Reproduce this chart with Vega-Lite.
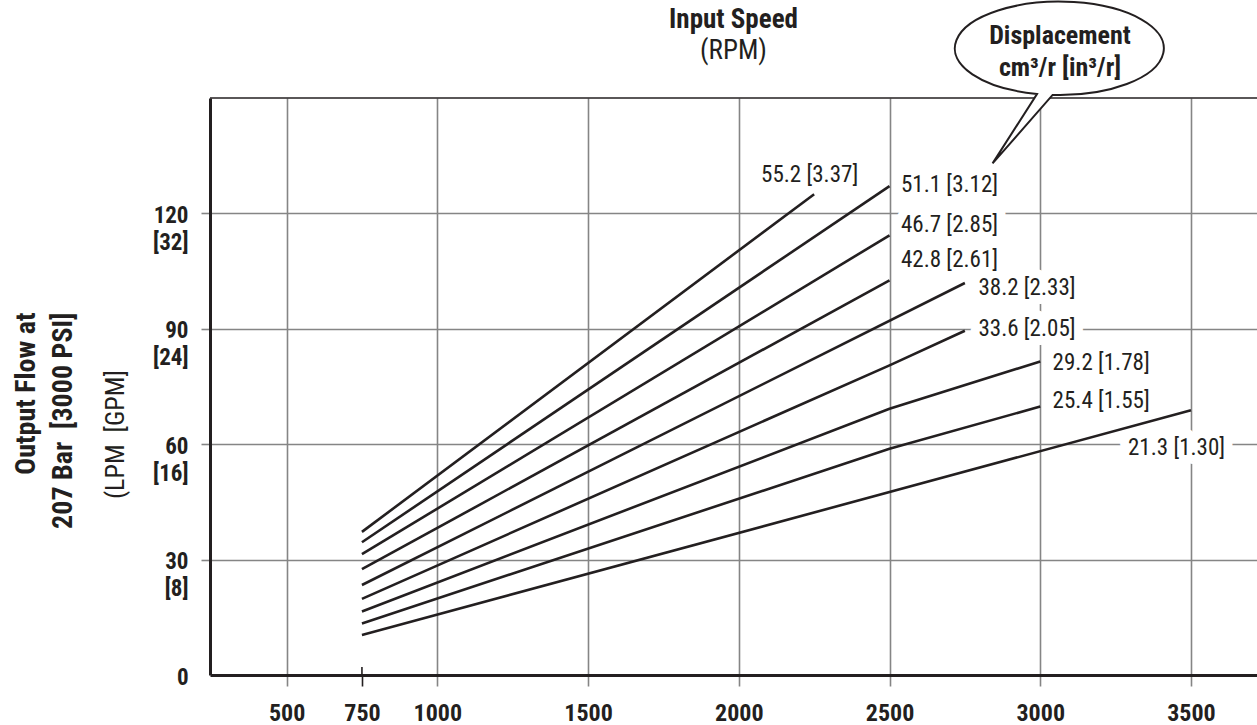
{
  "$schema": "https://vega.github.io/schema/vega-lite/v6.json",
  "width": 1047,
  "height": 577,
  "autosize": {"type": "none"},
  "padding": {"left": 210, "top": 98, "right": 0, "bottom": 50},
  "background": "white",
  "config": {
    "view": {"stroke": null},
    "font": "Roboto Condensed, Liberation Sans, sans-serif",
    "text": {"font": "Roboto Condensed, Liberation Sans, sans-serif"}
  },
  "title": {
    "text": "Input Speed",
    "subtitle": "(RPM)",
    "anchor": "middle",
    "frame": "group",
    "font": "Roboto Condensed, Liberation Sans, sans-serif",
    "subtitleFont": "Roboto Condensed, Liberation Sans, sans-serif",
    "fontSize": 27,
    "fontWeight": "bold",
    "subtitleFontSize": 27,
    "subtitleFontWeight": "normal",
    "color": "#231f20",
    "subtitleColor": "#231f20",
    "subtitlePadding": 4,
    "offset": -67
  },
  "datasets": {
    "curves": [
      {"disp": "55.2", "rpm": 750, "flow": 37.2}, {"disp": "55.2", "rpm": 2250, "flow": 125.0},
      {"disp": "51.1", "rpm": 750, "flow": 34.5}, {"disp": "51.1", "rpm": 2500, "flow": 127.1},
      {"disp": "46.7", "rpm": 750, "flow": 31.4}, {"disp": "46.7", "rpm": 2500, "flow": 114.3},
      {"disp": "42.8", "rpm": 750, "flow": 27.5}, {"disp": "42.8", "rpm": 2500, "flow": 102.6},
      {"disp": "38.2", "rpm": 750, "flow": 23.4}, {"disp": "38.2", "rpm": 2750, "flow": 101.9},
      {"disp": "33.6", "rpm": 750, "flow": 19.8}, {"disp": "33.6", "rpm": 2500, "flow": 80.5}, {"disp": "33.6", "rpm": 2750, "flow": 89.5},
      {"disp": "29.2", "rpm": 750, "flow": 16.5}, {"disp": "29.2", "rpm": 2500, "flow": 69.2}, {"disp": "29.2", "rpm": 3000, "flow": 81.5},
      {"disp": "25.4", "rpm": 750, "flow": 13.4}, {"disp": "25.4", "rpm": 2500, "flow": 58.8}, {"disp": "25.4", "rpm": 3000, "flow": 69.8},
      {"disp": "21.3", "rpm": 750, "flow": 10.4}, {"disp": "21.3", "rpm": 3500, "flow": 68.8}
    ],
    "labels": [
      {"rpm": 2074, "flow": 130.0, "label": "55.2 [3.37]"},
      {"rpm": 2538, "flow": 127.4, "label": "51.1 [3.12]"},
      {"rpm": 2538, "flow": 117.0, "label": "46.7 [2.85]"},
      {"rpm": 2538, "flow": 108.0, "label": "42.8 [2.61]"},
      {"rpm": 2795, "flow": 100.6, "label": "38.2 [2.33]"},
      {"rpm": 2795, "flow": 90.0, "label": "33.6 [2.05]"},
      {"rpm": 3041, "flow": 81.1, "label": "29.2 [1.78]"},
      {"rpm": 3041, "flow": 71.2, "label": "25.4 [1.55]"},
      {"rpm": 3291, "flow": 59.0, "label": "21.3 [1.30]"}
    ],
    "frame": [{"rpm": 246, "rpm2": 3719, "flow": 150}],
    "tick750": [{"rpm": 750, "flow": 0, "flow2": 2.1}],
    "bubble": [{"rpm": 3065.5, "flow": 162.9}],
    "bubbleText": [
      {"rpm": 3065.5, "flow": 164.0, "text": "Displacement"},
      {"rpm": 3065.5, "flow": 155.7, "text": "cm³/r [in³/r]"}
    ],
    "units": [{"rpm": -39, "flow": 62.5, "text": "(LPM\u00a0 [GPM]"}]
  },
  "encoding": {
    "x": {
      "field": "rpm",
      "type": "quantitative",
      "scale": {"domain": [246, 3719], "nice": false, "zero": false},
      "axis": {
        "values": [500, 750, 1000, 1500, 2000, 2500, 3000, 3500],
        "format": "d",
        "title": null,
        "grid": true,
        "gridColor": "#858585",
        "gridWidth": 1.6,
        "gridOpacity": {"condition": {"test": "datum.value == 750", "value": 0}, "value": 1},
        "domainColor": "#231f20",
        "domainWidth": 3,
        "tickColor": {"condition": {"test": "datum.value == 750", "value": "#231f20"}, "value": "#858585"},
        "tickWidth": 1.6,
        "tickSize": 11,
        "labelFont": "Roboto Condensed, Liberation Sans, sans-serif",
        "labelFontSize": 24,
        "labelFontWeight": "bold",
        "labelColor": "#231f20",
        "labelPadding": 15,
        "labelBaseline": "top",
        "labelFlush": false,
        "labelOverlap": false
      }
    },
    "y": {
      "field": "flow",
      "type": "quantitative",
      "scale": {"domain": [0, 150], "nice": false, "zero": false},
      "axis": {
        "values": [0, 30, 60, 90, 120],
        "title": ["Output Flow at", "207 Bar\u00a0 [3000 PSI]"],
        "titleFont": "Roboto Condensed, Liberation Sans, sans-serif",
        "titleFontSize": 28,
        "titleFontWeight": "bold",
        "titleColor": "#231f20",
        "titleAngle": 270,
        "titleAlign": "right",
        "titleBaseline": "alphabetic",
        "titleLineHeight": 37,
        "titleX": -176,
        "titleY": 214,
        "grid": true,
        "gridColor": "#858585",
        "gridWidth": 1.6,
        "gridOpacity": {"condition": {"test": "datum.value == 0", "value": 0}, "value": 1},
        "domainColor": "#231f20",
        "domainWidth": 3,
        "tickColor": "#858585",
        "tickWidth": 1.6,
        "tickSize": 9,
        "tickOpacity": {"condition": {"test": "datum.value == 0", "value": 0}, "value": 1},
        "labelExpr": "datum.value == 0 ? datum.label : [datum.label, '[' + format(datum.value * 4 / 15, 'd') + ']']",
        "labelFont": "Roboto Condensed, Liberation Sans, sans-serif",
        "labelFontSize": 23,
        "labelFontWeight": "bold",
        "labelColor": "#231f20",
        "labelLineHeight": 27,
        "labelBaseline": "top",
        "labelOffset": -9,
        "labelPadding": 13,
        "labelAlign": "right",
        "labelOverlap": false,
        "labelFlush": false
      }
    }
  },
  "layer": [
    {
      "data": {"name": "frame"},
      "mark": {"type": "rule", "color": "#231f20", "strokeWidth": 1.6},
      "encoding": {"x2": {"field": "rpm2"}}
    },
    {
      "data": {"name": "tick750"},
      "mark": {"type": "rule", "color": "#231f20", "strokeWidth": 1.6},
      "encoding": {"y2": {"field": "flow2"}}
    },
    {
      "data": {"name": "labels"},
      "mark": {"type": "text", "align": "left", "baseline": "middle", "fontSize": 23, "fill": "white", "stroke": "white", "strokeWidth": 18, "strokeJoin": "round"},
      "encoding": {"text": {"field": "label"}}
    },
    {
      "data": {"name": "curves"},
      "mark": {"type": "line", "color": "#231f20", "strokeWidth": 2.6},
      "encoding": {"detail": {"field": "disp"}, "order": {"field": "rpm"}}
    },
    {
      "data": {"name": "labels"},
      "mark": {"type": "text", "align": "left", "baseline": "middle", "fontSize": 23, "color": "#231f20"},
      "encoding": {"text": {"field": "label"}}
    },
    {
      "data": {"name": "bubble"},
      "mark": {
        "type": "point",
        "shape": "M -0.0708 0.4458 A 1 0.4469 0 1 0 -0.2201 0.4364 L -0.645 1.1005 Z",
        "size": 43681,
        "filled": true,
        "fill": "white",
        "stroke": "#231f20",
        "strokeWidth": 2,
        "opacity": 1,
        "fillOpacity": 1
      }
    },
    {
      "data": {"name": "bubbleText"},
      "mark": {"type": "text", "align": "center", "baseline": "alphabetic", "fontSize": 26, "fontWeight": "bold", "color": "#231f20"},
      "encoding": {"text": {"field": "text"}}
    },
    {
      "data": {"name": "units"},
      "mark": {"type": "text", "align": "center", "baseline": "alphabetic", "angle": 270, "fontSize": 26, "color": "#231f20"},
      "encoding": {"text": {"field": "text"}}
    }
  ]
}
